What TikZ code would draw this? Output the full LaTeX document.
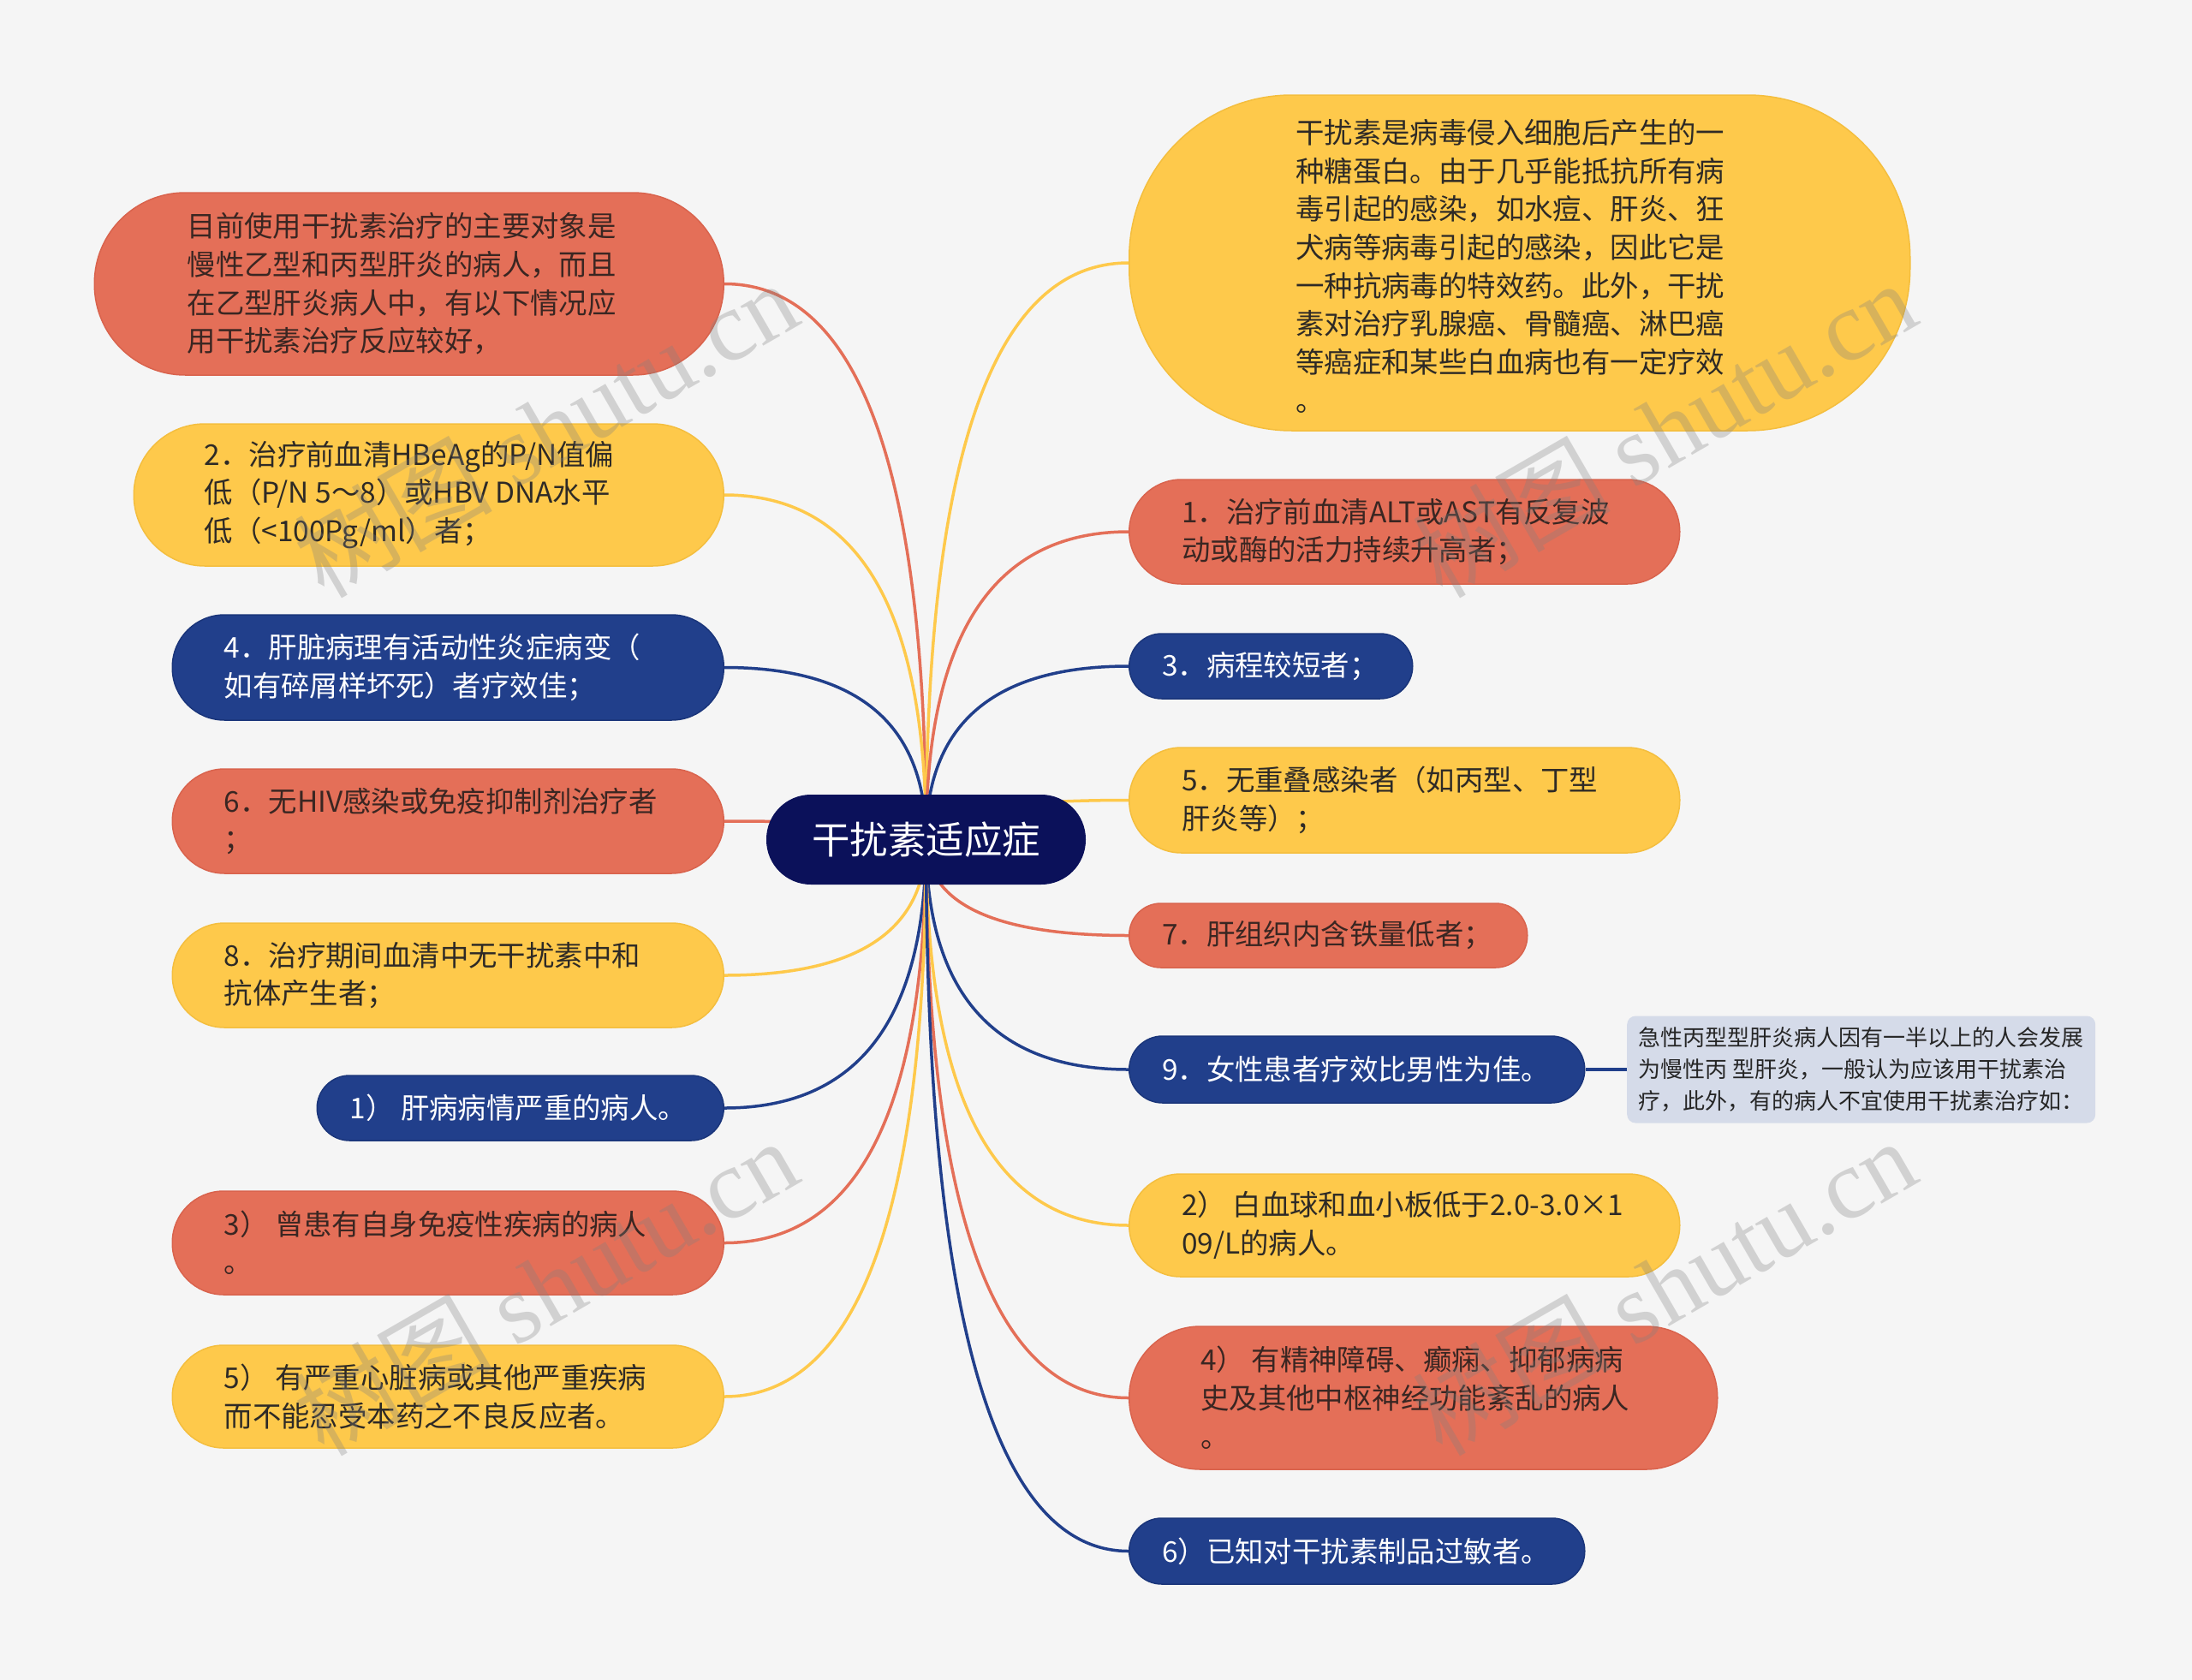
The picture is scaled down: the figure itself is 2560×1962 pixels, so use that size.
\documentclass[tikz,border=0pt]{standalone}
\usepackage{fontspec}
\setmainfont{Noto Sans CJK SC}
\newfontfamily\wmserif{Liberation Serif}
\usetikzlibrary{calc}
\definecolor{bgc}{HTML}{F5F5F5}
\definecolor{redf}{HTML}{E46F58}
\definecolor{redd}{HTML}{D9634D}
\definecolor{yelf}{HTML}{FEC94B}
\definecolor{yeld}{HTML}{F4BE3E}
\definecolor{navf}{HTML}{213F8B}
\definecolor{navd}{HTML}{1A357A}
\definecolor{ctrf}{HTML}{0B115A}
\definecolor{subf}{HTML}{D5DBE9}
\definecolor{txtd}{HTML}{2E2A26}
\definecolor{txtr}{HTML}{3A2622}
\pgfdeclarelayer{bg}
\pgfdeclarelayer{lines}
\pgfsetlayers{bg,lines,main}
\newcommand\conn[3]{%
  \draw[#1, line width=3.5pt] (#2.center) .. controls ($(#2.center)!0.6667!(#2.center|-#3)$) and ($(#3)!0.6667!(#2.center|-#3)$) .. (#3);}
\newcommand\ph{\vphantom{国}}
\tikzset{
  pill/.style={rectangle, rounded corners=#1, line width=1.5pt, inner sep=0pt},
  redbox/.style={pill=#1, fill=redf, draw=redd},
  yelbox/.style={pill=#1, fill=yelf, draw=yeld},
  navbox/.style={pill=#1, fill=navf, draw=navd},
  txt/.style={inner sep=0pt, align=left, anchor=west, font=\fontsize{33.4}{44.7}\selectfont},
  rtxt/.style={txt, text=txtr},
  ytxt/.style={txt, text=txtd},
  ntxt/.style={txt, text=white},
  wm/.style={text=black!50, opacity=0.3, rotate=30, font=\fontsize{116}{116}\selectfont, inner sep=0pt}
}
\begin{document}
\begin{tikzpicture}[x=1pt,y=-1pt]
\begin{pgfonlayer}{bg}
\fill[bgc] (0,0) rectangle (2560,1962);
\end{pgfonlayer}
\useasboundingbox (0,0) rectangle (2560,1962);

% center
\node[fill=ctrf, rounded corners=52pt, minimum width=373pt, minimum height=105pt, inner sep=0pt, text=white, font=\fontsize{44.5}{44.5}\selectfont] (C) at (1081.5,980.5) {干扰素适应症};

% left boxes
\node[redbox=106pt, minimum width=735pt, minimum height=213pt, anchor=east] (L1) at (846,331.5) {};
\node[rtxt] (L1t) at ([xshift=109pt]L1.west) {目前使用干扰素治疗的主要对象是\\慢性乙型和丙型肝炎的病人，而且\\在乙型肝炎病人中，有以下情况应\\用干扰素治疗反应较好，};

\node[yelbox=83pt, minimum width=689pt, minimum height=166pt, anchor=east] (L2) at (846,578) {};
\node[ytxt] (L2t) at ([xshift=83pt]L2.west) {2．治疗前血清HBeAg的P/N值偏\\低（P/N 5～8）或HBV DNA水平\\低（<100Pg/ml）者；};

\node[navbox=61pt, minimum width=644pt, minimum height=123pt, anchor=east] (L3) at (846,779.5) {};
\node[ntxt] (L3t) at ([xshift=61pt]L3.west) {4．肝脏病理有活动性炎症病变（\\如有碎屑样坏死）者疗效佳；};

\node[redbox=61pt, minimum width=644pt, minimum height=122pt, anchor=east] (L4) at (846,959) {};
\node[rtxt] (L4t) at ([xshift=61pt]L4.west) {6．无HIV感染或免疫抑制剂治疗者\\\ph；};

\node[yelbox=61pt, minimum width=644pt, minimum height=122pt, anchor=east] (L5) at (846,1139) {};
\node[ytxt] (L5t) at ([xshift=61pt]L5.west) {8．治疗期间血清中无干扰素中和\\抗体产生者；};

\node[navbox=38pt, minimum width=475pt, minimum height=76pt, anchor=east] (L6) at (846,1294) {};
\node[ntxt] (L6t) at ([xshift=39pt]L6.west) {1） 肝病病情严重的病人。};

\node[redbox=60pt, minimum width=644pt, minimum height=121pt, anchor=east] (L7) at (846,1451.5) {};
\node[rtxt] (L7t) at ([xshift=61pt]L7.west) {3） 曾患有自身免疫性疾病的病人\\\ph。};

\node[yelbox=60pt, minimum width=644pt, minimum height=120pt, anchor=east] (L8) at (846,1631) {};
\node[ytxt] (L8t) at ([xshift=61pt]L8.west) {5） 有严重心脏病或其他严重疾病\\而不能忍受本药之不良反应者。};

% right boxes
\node[yelbox=190pt, minimum width=912pt, minimum height=392pt, anchor=west] (R1) at (1318,307) {};
\node[ytxt] (R1t) at ([xshift=195pt, yshift=-4pt]R1.west) {干扰素是病毒侵入细胞后产生的一\\种糖蛋白。由于几乎能抵抗所有病\\毒引起的感染，如水痘、肝炎、狂\\犬病等病毒引起的感染，因此它是\\一种抗病毒的特效药。此外，干扰\\素对治疗乳腺癌、骨髓癌、淋巴癌\\等癌症和某些白血病也有一定疗效\\\ph。};

\node[redbox=61pt, minimum width=643pt, minimum height=122pt, anchor=west] (R2) at (1318,621) {};
\node[rtxt] (R2t) at ([xshift=62pt]R2.west) {1．治疗前血清ALT或AST有反复波\\动或酶的活力持续升高者；};

\node[navbox=38pt, minimum width=331pt, minimum height=76pt, anchor=west] (R3) at (1318,778) {};
\node[ntxt] (R3t) at ([xshift=39pt]R3.west) {3．病程较短者；};

\node[yelbox=61pt, minimum width=643pt, minimum height=123pt, anchor=west] (R4) at (1318,934.5) {};
\node[ytxt] (R4t) at ([xshift=62pt]R4.west) {5．无重叠感染者（如丙型、丁型\\肝炎等）；};

\node[redbox=37pt, minimum width=465pt, minimum height=75pt, anchor=west] (R5) at (1318,1092.5) {};
\node[rtxt] (R5t) at ([xshift=39pt]R5.west) {7．肝组织内含铁量低者；};

\node[navbox=39pt, minimum width=532pt, minimum height=78pt, anchor=west] (R6) at (1318,1249) {};
\node[ntxt] (R6t) at ([xshift=39pt]R6.west) {9．女性患者疗效比男性为佳。};

\node[fill=subf, rounded corners=10pt, minimum width=547pt, minimum height=125pt, inner sep=0pt, anchor=west] (S) at (1900,1249) {};
\node[inner sep=0pt, align=left, anchor=west, text=black!85, font=\fontsize{26}{37}\selectfont] (St) at ([xshift=13pt]S.west) {急性丙型型肝炎病人因有一半以上的人会发展\\为慢性丙 型肝炎，一般认为应该用干扰素治\\疗，此外，有的病人不宜使用干扰素治疗如：};

\node[yelbox=60pt, minimum width=643pt, minimum height=120pt, anchor=west] (R7) at (1318,1431) {};
\node[ytxt] (R7t) at ([xshift=62pt]R7.west) {2） 白血球和血小板低于2.0-3.0×1\\09/L的病人。};

\node[redbox=83pt, minimum width=687pt, minimum height=167pt, anchor=west] (R8) at (1318,1632.5) {};
\node[rtxt] (R8t) at ([xshift=84pt]R8.west) {4） 有精神障碍、癫痫、抑郁病病\\史及其他中枢神经功能紊乱的病人\\\ph。};

\node[navbox=38pt, minimum width=532pt, minimum height=77pt, anchor=west] (R9) at (1318,1811.5) {};
\node[ntxt] (R9t) at ([xshift=39pt]R9.west) {6）已知对干扰素制品过敏者。};

% connectors
\begin{pgfonlayer}{lines}
\conn{redf}{C}{L1.east}
\conn{yelf}{C}{L2.east}
\conn{navf}{C}{L3.east}
\conn{redf}{C}{L4.east}
\conn{yelf}{C}{L5.east}
\conn{navf}{C}{L6.east}
\conn{redf}{C}{L7.east}
\conn{yelf}{C}{L8.east}
\conn{yelf}{C}{R1.west}
\conn{redf}{C}{R2.west}
\conn{navf}{C}{R3.west}
\conn{yelf}{C}{R4.west}
\conn{redf}{C}{R5.west}
\conn{navf}{C}{R6.west}
\conn{yelf}{C}{R7.west}
\conn{redf}{C}{R8.west}
\conn{navf}{C}{R9.west}
\draw[navf, line width=3.5pt] (R6.east) -- (S.west);
\end{pgfonlayer}

% watermarks
\node[wm] (w1) at (637,500) {树图 {\wmserif shutu.cn}};
\node[wm] (w2) at (1943,500) {树图 {\wmserif shutu.cn}};
\node[wm] (w3) at (637,1502) {树图 {\wmserif shutu.cn}};
\node[wm] (w4) at (1943,1502) {树图 {\wmserif shutu.cn}};
\end{tikzpicture}
\end{document}
